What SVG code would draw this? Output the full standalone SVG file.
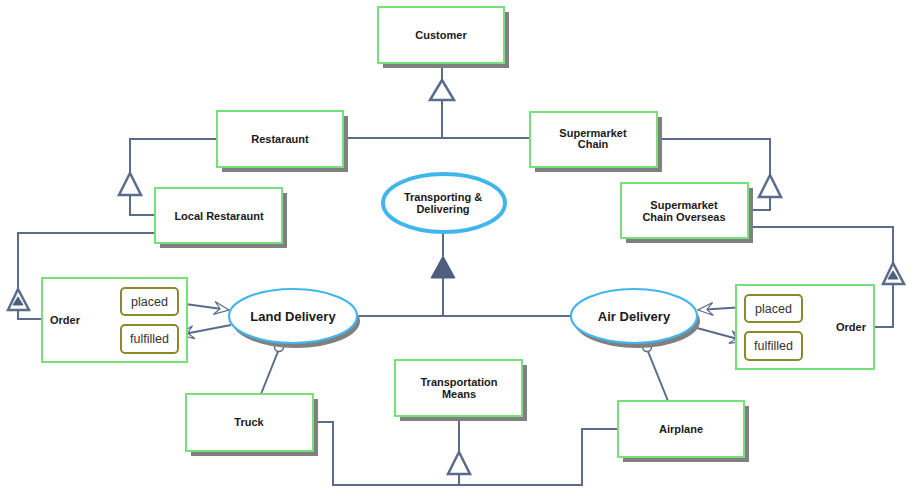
<svg xmlns="http://www.w3.org/2000/svg" width="906" height="488" viewBox="0 0 906 488">
  <defs>
    <style>
      .box { fill: #ffffff; stroke: #76e07a; stroke-width: 2; }
      .shadow { fill: #808080; }
      .lbl { font-family: "Liberation Sans", Arial, sans-serif; font-size: 11px; font-weight: bold; fill: #1a1a1a; text-anchor: middle; }
      .big { font-size: 13px; }
      .state { fill: #ffffff; stroke: #8a8a2a; stroke-width: 2; }
      .stxt { font-family: "Liberation Sans", Arial, sans-serif; font-size: 12.5px; fill: #333333; text-anchor: middle; }
      .proc { fill: #ffffff; stroke: #40b6ec; stroke-width: 2.2; }
      .conn { fill: none; stroke: #5a6b8c; stroke-width: 2; }
      .tri { fill: #ffffff; stroke: #5a6b8c; stroke-width: 2.5; stroke-linejoin: miter; }
      .tri-solid { fill: #4e5e7e; stroke: #4e5e7e; stroke-width: 1; }
      .arr { fill: none; stroke: #5a6b8c; stroke-width: 2; }
      .pin { fill: #ffffff; stroke: #5a6b8c; stroke-width: 1.5; }
    </style>
    <marker id="open" viewBox="-16 -8 18 16" refX="0" refY="0" markerWidth="18" markerHeight="16" markerUnits="userSpaceOnUse" orient="auto">
      <path d="M0,0 L-15,-6.5 L-9,0 L-15,6.5 Z" fill="#ffffff" stroke="#5a6b8c" stroke-width="1.2" stroke-linejoin="miter"/>
    </marker>
  </defs>

  <!-- connectors -->
  <g id="connectors">
    <!-- Customer generalization -->
    <path class="conn" d="M442,63 V79"/>
    <path class="conn" d="M442,100 V138"/>
    <path class="conn" d="M343,138 H530"/>
    <polygon class="tri" points="442,80 430,100 454,100"/>

    <!-- Restaraunt / Local Restaraunt -->
    <path class="conn" d="M217,139 H130 V173"/>
    <path class="conn" d="M130,195 V215 H155"/>
    <polygon class="tri" points="130,173 119,195 141,195"/>

    <!-- Supermarket Chain / Overseas -->
    <path class="conn" d="M657,139 H770 V175"/>
    <path class="conn" d="M770,197 V210 H748"/>
    <polygon class="tri" points="770,175 759,197 781,197"/>

    <!-- Local Restaraunt to left Order -->
    <path class="conn" d="M155,233 H18 V288"/>
    <path class="conn" d="M18,310 V319 H42"/>
    <polygon class="tri" points="18,289 8,310 29,310"/>
    <polygon class="tri-solid" points="18,297 13,305 23,305"/>

    <!-- Supermarket Chain Overseas to right Order -->
    <path class="conn" d="M748,227 H893 V262"/>
    <path class="conn" d="M893,284 V327 H874"/>
    <polygon class="tri" points="893,263 883,284 904,284"/>
    <polygon class="tri-solid" points="893,271 888,279 898,279"/>

    <!-- Transporting & Delivering specialization -->
    <path class="conn" d="M443,232 V256"/>
    <path class="conn" d="M443,278 V316"/>
    <path class="conn" d="M357,316 H572"/>
    <polygon class="tri-solid" points="443,256 431,278 455,278"/>

    <!-- Land Delivery state arrows -->
    <path class="arr" d="M178,303 L229,310" marker-end="url(#open)"/>
    <path class="arr" d="M231,325 L179,335" marker-end="url(#open)"/>

    <!-- Air Delivery state arrows -->
    <path class="arr" d="M745,307 L698,310" marker-end="url(#open)"/>
    <path class="arr" d="M697,328 L745,341" marker-end="url(#open)"/>

    <!-- instrument links -->
    <path class="conn" d="M279,349 L261,394"/>
    <path class="conn" d="M647,349 L668,401"/>
    <circle class="pin" cx="279" cy="347" r="4.5"/>
    <circle class="pin" cx="647" cy="347" r="4.5"/>

    <!-- Transportation Means generalization -->
    <path class="conn" d="M459,416 V452"/>
    <path class="conn" d="M459,474 V485"/>
    <path class="conn" d="M313,422 H333 V485 H582 V429 H618"/>
    <polygon class="tri" points="459,452 448,474 470,474"/>
  </g>

  <!-- nodes -->
  <g id="customer">
    <rect class="shadow" x="383" y="12" width="126" height="56"/>
    <rect class="box" x="378" y="7" width="126" height="56"/>
    <text class="lbl" x="441" y="39">Customer</text>
  </g>

  <g id="restaraunt">
    <rect class="shadow" x="222" y="116" width="126" height="56"/>
    <rect class="box" x="217" y="111" width="126" height="56"/>
    <text class="lbl" x="280" y="143">Restaraunt</text>
  </g>

  <g id="supermarket-chain">
    <rect class="shadow" x="535" y="117" width="127" height="55"/>
    <rect class="box" x="530" y="112" width="127" height="55"/>
    <text class="lbl" x="593" y="137">Supermarket</text>
    <text class="lbl" x="593" y="148">Chain</text>
  </g>

  <g id="local-restaraunt">
    <rect class="shadow" x="160" y="193" width="127" height="55"/>
    <rect class="box" x="155" y="188" width="127" height="55"/>
    <text class="lbl" x="219" y="220">Local Restaraunt</text>
  </g>

  <g id="supermarket-chain-overseas">
    <rect class="shadow" x="626" y="188" width="127" height="55"/>
    <rect class="box" x="621" y="183" width="127" height="55"/>
    <text class="lbl" x="684" y="209">Supermarket</text>
    <text class="lbl" x="684" y="221">Chain Overseas</text>
  </g>

  <g id="transporting-delivering">
    <ellipse cx="444" cy="203" rx="61" ry="29" fill="#ffffff" stroke="#40b6ec" stroke-width="4"/>
    <text class="lbl" x="443" y="201">Transporting &amp;</text>
    <text class="lbl" x="443" y="213">Delivering</text>
  </g>

  <g id="order-left">
    <rect class="box" x="42" y="278" width="145" height="84"/>
    <text class="lbl" x="65" y="324">Order</text>
    <rect class="state" x="121" y="288" width="57" height="27" rx="4"/>
    <text class="stxt" x="149.5" y="306">placed</text>
    <rect class="state" x="121" y="325" width="57" height="28" rx="4"/>
    <text class="stxt" x="149.5" y="343">fulfilled</text>
  </g>

  <g id="land-delivery">
    <ellipse cx="296" cy="321" rx="64" ry="27" class="shadow"/>
    <ellipse cx="293" cy="316" rx="64" ry="27" class="proc"/>
    <text class="lbl big" x="293" y="321">Land Delivery</text>
  </g>

  <g id="air-delivery">
    <ellipse cx="637" cy="321" rx="63" ry="27" class="shadow"/>
    <ellipse cx="634" cy="316" rx="63" ry="27" class="proc"/>
    <text class="lbl big" x="634" y="321">Air Delivery</text>
  </g>

  <g id="order-right">
    <rect class="box" x="736" y="285" width="138" height="84"/>
    <text class="lbl" x="851" y="331">Order</text>
    <rect class="state" x="745" y="295" width="57" height="27" rx="4"/>
    <text class="stxt" x="773.5" y="313">placed</text>
    <rect class="state" x="745" y="332" width="57" height="28" rx="4"/>
    <text class="stxt" x="773.5" y="350">fulfilled</text>
  </g>

  <g id="transportation-means">
    <rect class="shadow" x="400" y="365" width="127" height="56"/>
    <rect class="box" x="395" y="360" width="127" height="56"/>
    <text class="lbl" x="459" y="386">Transportation</text>
    <text class="lbl" x="459" y="398">Means</text>
  </g>

  <g id="truck">
    <rect class="shadow" x="191" y="399" width="127" height="57"/>
    <rect class="box" x="186" y="394" width="127" height="57"/>
    <text class="lbl" x="249" y="426">Truck</text>
  </g>

  <g id="airplane">
    <rect class="shadow" x="623" y="406" width="126" height="56"/>
    <rect class="box" x="618" y="401" width="126" height="56"/>
    <text class="lbl" x="681" y="433">Airplane</text>
  </g>
</svg>
